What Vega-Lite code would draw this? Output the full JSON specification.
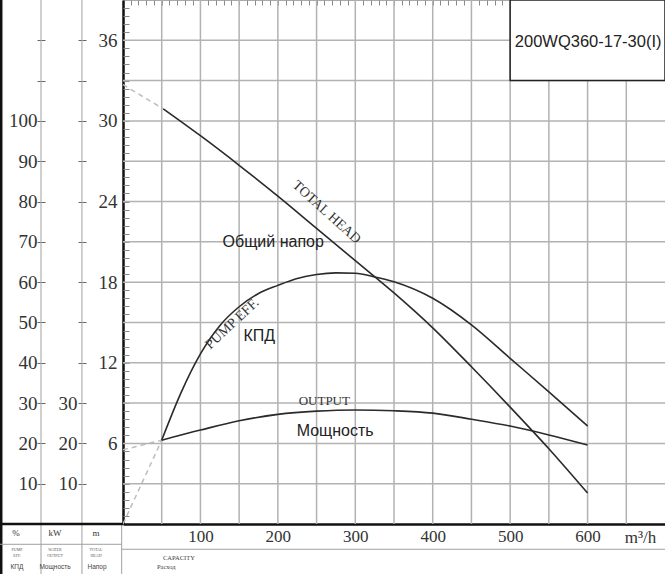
{
  "$schema": "https://vega.github.io/schema/vega-lite/v6.json",
  "width": 542,
  "height": 524,
  "autosize": {"type": "none"},
  "padding": {"left": 123, "top": 0, "right": 0, "bottom": 50},
  "background": "white",
  "config": {
    "view": {"stroke": "#aaaaaa", "strokeWidth": 1},
    "axis": {"labelFont": "Liberation Serif", "labelColor": "#333333", "titleFont": "Liberation Serif", "titleColor": "#333333"}
  },
  "datasets": {
    "gridFlow": [{"Q": 50}, {"Q": 100}, {"Q": 150}, {"Q": 200}, {"Q": 250}, {"Q": 300}, {"Q": 350}, {"Q": 400}, {"Q": 450}, {"Q": 500}, {"Q": 550}, {"Q": 600}, {"Q": 650}],
    "gridHead": [{"head": 3}, {"head": 6}, {"head": 9}, {"head": 12}, {"head": 15}, {"head": 18}, {"head": 21}, {"head": 24}, {"head": 27}, {"head": 30}, {"head": 33}, {"head": 36}],
    "head": [
      {"Q": 52, "head": 30.9}, {"Q": 100, "head": 28.9}, {"Q": 150, "head": 26.7},
      {"Q": 200, "head": 24.4}, {"Q": 250, "head": 22.0}, {"Q": 300, "head": 19.6},
      {"Q": 350, "head": 17.2}, {"Q": 400, "head": 14.6}, {"Q": 450, "head": 11.7},
      {"Q": 500, "head": 8.7}, {"Q": 550, "head": 5.6}, {"Q": 600, "head": 2.3}
    ],
    "headDash": [{"Q": 0, "head": 32.7}, {"Q": 52, "head": 30.9}],
    "eff": [
      {"Q": 50, "eff": 20.8}, {"Q": 75, "eff": 32.6}, {"Q": 100, "eff": 42.2},
      {"Q": 125, "eff": 49.2}, {"Q": 150, "eff": 53.9}, {"Q": 175, "eff": 57.2},
      {"Q": 200, "eff": 59.2}, {"Q": 225, "eff": 60.9}, {"Q": 250, "eff": 61.9},
      {"Q": 275, "eff": 62.3}, {"Q": 300, "eff": 62.2}, {"Q": 325, "eff": 61.3},
      {"Q": 350, "eff": 60.1}, {"Q": 400, "eff": 56}, {"Q": 450, "eff": 49.4},
      {"Q": 500, "eff": 41.1}, {"Q": 550, "eff": 32.8}, {"Q": 600, "eff": 24.3}
    ],
    "effDash": [{"Q": 0, "eff": 0}, {"Q": 50, "eff": 20.8}],
    "kw": [
      {"Q": 50, "kw": 20.8}, {"Q": 100, "kw": 23.3}, {"Q": 150, "kw": 25.6},
      {"Q": 200, "kw": 27.2}, {"Q": 250, "kw": 28}, {"Q": 300, "kw": 28.3},
      {"Q": 350, "kw": 28.1}, {"Q": 400, "kw": 27.5}, {"Q": 450, "kw": 26},
      {"Q": 500, "kw": 24.3}, {"Q": 550, "kw": 22.1}, {"Q": 600, "kw": 19.6}
    ],
    "kwDash": [{"Q": 0, "kw": 18.4}, {"Q": 50, "kw": 20.8}],
    "one": [{}],
    "units": [
      {"label": "%", "Q": -138.2, "head": -0.67},
      {"label": "kW", "Q": -87.8, "head": -0.67},
      {"label": "m", "Q": -34.9, "head": -0.67}
    ],
    "unitsTiny": [
      {"label": "PUMP\nEFF.", "Q": -136.9, "head": -1.95},
      {"label": "WATER\nOUTPUT", "Q": -87.8, "head": -1.95},
      {"label": "TOTAL\nHEAD", "Q": -34.9, "head": -1.95}
    ],
    "unitsRu": [
      {"label": "КПД", "Q": -136.9, "head": -3.2},
      {"label": "Мощность", "Q": -87.8, "head": -3.2},
      {"label": "Напор", "Q": -33.6, "head": -3.2}
    ],
    "capacity": [
      {"label": "CAPACITY", "Q": 51.7, "head": -2.53},
      {"label": "Расход", "Q": 43.9, "head": -3.2}
    ]
  },
  "layer": [
    {
      "data": {"name": "headDash"},
      "mark": {"type": "line", "color": "#bdbdbd", "strokeWidth": 1.5, "strokeDash": [5, 4]},
      "encoding": {
        "x": {
          "field": "Q", "type": "quantitative",
          "scale": {"domain": [0, 700], "nice": false, "zero": false},
          "axis": {
            "title": "m³/h",
            "titleX": 517, "titleY": 13, "titleAngle": 0, "titleAlign": "center", "titleBaseline": "middle",
            "titleFontSize": 17, "titleFontWeight": "normal",
            "values": [100, 200, 300, 400, 500, 600],
            "grid": false, "ticks": false,
            "domainColor": "#111111", "domainWidth": 2.5,
            "labelFontSize": 17, "labelPadding": 4, "labelBaseline": "top"
          }
        },
        "y": {
          "field": "head", "type": "quantitative",
          "scale": {"domain": [0, 39], "nice": false, "zero": false},
          "axis": {
            "orient": "left", "title": null,
            "values": [6, 12, 18, 24, 30, 36],
            "grid": false, "ticks": false,
            "domainColor": "#111111", "domainWidth": 2.5,
            "labelFontSize": 19, "labelPadding": 6, "labelBaseline": "middle"
          }
        }
      }
    },
    {
      "data": {"name": "effDash"},
      "mark": {"type": "line", "color": "#bdbdbd", "strokeWidth": 1.5, "strokeDash": [5, 4]},
      "encoding": {
        "x": {"field": "Q", "type": "quantitative", "scale": {"domain": [0, 700], "nice": false, "zero": false}, "axis": null},
        "y": {
          "field": "eff", "type": "quantitative",
          "scale": {"domain": [0, 130], "nice": false, "zero": false},
          "axis": {
            "orient": "left", "offset": 82, "title": null,
            "values": [10,20,30,40,50,60,70,80,90,100,110,120],
            "grid": false, "domain": false,
            "tickColor": "#666666", "tickSize": 4, "tickWidth": 1,
            "labelExpr": "datum.value <= 100 ? format(datum.value, 'd') : ''",
            "labelFontSize": 19, "labelPadding": 0, "labelBaseline": "middle"
          }
        }
      }
    },
    {
      "data": {"name": "kwDash"},
      "mark": {"type": "line", "color": "#bdbdbd", "strokeWidth": 1.5, "strokeDash": [5, 4]},
      "encoding": {
        "x": {"field": "Q", "type": "quantitative", "scale": {"domain": [0, 700], "nice": false, "zero": false}, "axis": null},
        "y": {
          "field": "kw", "type": "quantitative",
          "scale": {"domain": [0, 130], "nice": false, "zero": false},
          "axis": {
            "orient": "left", "offset": 41, "title": null,
            "values": [10,20,30,40,50,60,70,80,90,100,110,120],
            "grid": false, "domain": false,
            "tickColor": "#666666", "tickSize": 4, "tickWidth": 1,
            "labelExpr": "datum.value <= 30 ? format(datum.value, 'd') : ''",
            "labelFontSize": 19, "labelPadding": 1, "labelBaseline": "middle"
          }
        }
      }
    },
    {
      "data": {"name": "gridFlow"},
      "mark": {"type": "rule", "color": "#b2b2b2", "strokeWidth": 1.5},
      "encoding": {
        "x": {
          "field": "Q", "type": "quantitative",
          "scale": {"domain": [0, 700], "nice": false, "zero": false},
          "axis": {
            "title": null, "labels": false, "domain": false, "grid": false, "offset": -5,
            "values": [10,20,30,40,50,60,70,80,90,100,110,120,130,140,150,160,170,180,190,200,210,220,230,240,250,260,270,280,290,300,310,320,330,340,350,360,370,380,390,400,410,420,430,440,450,460,470,480,490,500,510,520,530,540,550,560,570,580,590,600,610,620,630,640,650,660,670,680,690],
            "tickColor": "#8a8a8a", "tickSize": 5, "tickWidth": 1
          }
        },
        "y": {"datum": 0, "type": "quantitative", "scale": {"domain": [0, 39], "nice": false, "zero": false}, "axis": null},
        "y2": {"datum": 39}
      }
    },
    {
      "data": {"name": "gridHead"},
      "mark": {"type": "rule", "color": "#b2b2b2", "strokeWidth": 1.5},
      "encoding": {
        "x": {"datum": 0, "type": "quantitative", "scale": {"domain": [0, 700], "nice": false, "zero": false}, "axis": null},
        "x2": {"datum": 700},
        "y": {
          "field": "head", "type": "quantitative",
          "scale": {"domain": [0, 39], "nice": false, "zero": false},
          "axis": {
            "orient": "left", "title": null, "labels": false, "domain": false, "grid": false, "offset": -6,
            "values": [0.6,1.2,1.8,2.4,3,3.6,4.2,4.8,5.4,6,6.6,7.2,7.8,8.4,9,9.6,10.2,10.8,11.4,12,12.6,13.2,13.8,14.4,15,15.6,16.2,16.8,17.4,18,18.6,19.2,19.8,20.4,21,21.6,22.2,22.8,23.4,24,24.6,25.2,25.8,26.4,27,27.6,28.2,28.8,29.4,30,30.6,31.2,31.8,32.4,33,33.6,34.2,34.8,35.4,36,36.6,37.2,37.8,38.4],
            "tickColor": "#8a8a8a", "tickSize": 6, "tickWidth": 1
          }
        }
      }
    },
    {
      "data": {"name": "head"},
      "mark": {"type": "line", "color": "#2a2a2a", "strokeWidth": 1.6, "interpolate": "monotone"},
      "encoding": {
        "x": {"field": "Q", "type": "quantitative", "scale": {"domain": [0, 700], "nice": false, "zero": false}, "axis": null},
        "y": {"field": "head", "type": "quantitative", "scale": {"domain": [0, 39], "nice": false, "zero": false}, "axis": null}
      }
    },
    {
      "data": {"name": "eff"},
      "mark": {"type": "line", "color": "#2a2a2a", "strokeWidth": 1.6, "interpolate": "monotone"},
      "encoding": {
        "x": {"field": "Q", "type": "quantitative", "scale": {"domain": [0, 700], "nice": false, "zero": false}, "axis": null},
        "y": {
          "field": "eff", "type": "quantitative",
          "scale": {"domain": [0, 130], "nice": false, "zero": false},
          "axis": {
            "orient": "left", "offset": 78, "title": null, "labels": false, "domain": false, "grid": false,
            "values": [10,20,30,40,50,60,70,80,90,100,110,120],
            "tickColor": "#666666", "tickSize": 4, "tickWidth": 1
          }
        }
      }
    },
    {
      "data": {"name": "kw"},
      "mark": {"type": "line", "color": "#2a2a2a", "strokeWidth": 1.6, "interpolate": "monotone"},
      "encoding": {
        "x": {"field": "Q", "type": "quantitative", "scale": {"domain": [0, 700], "nice": false, "zero": false}, "axis": null},
        "y": {
          "field": "kw", "type": "quantitative",
          "scale": {"domain": [0, 130], "nice": false, "zero": false},
          "axis": {
            "orient": "left", "offset": 37, "title": null, "labels": false, "domain": false, "grid": false,
            "values": [10,20,30,40,50,60,70,80,90,100,110,120],
            "tickColor": "#666666", "tickSize": 4, "tickWidth": 1
          }
        }
      }
    },
    {
      "data": {"values": [{"label": "TOTAL HEAD", "Q": 263, "head": 23.2}]},
      "mark": {"type": "text", "font": "Liberation Serif", "fontSize": 14, "angle": 42, "color": "#333333"},
      "encoding": {
        "x": {"field": "Q", "type": "quantitative", "scale": {"domain": [0, 700], "nice": false, "zero": false}, "axis": null},
        "y": {"field": "head", "type": "quantitative", "scale": {"domain": [0, 39], "nice": false, "zero": false}, "axis": null},
        "text": {"field": "label"}
      }
    },
    {
      "data": {"values": [{"label": "Общий напор", "Q": 194, "head": 21.0}]},
      "mark": {"type": "text", "font": "Liberation Sans", "fontSize": 16, "color": "#222222"},
      "encoding": {
        "x": {"field": "Q", "type": "quantitative", "scale": {"domain": [0, 700], "nice": false, "zero": false}, "axis": null},
        "y": {"field": "head", "type": "quantitative", "scale": {"domain": [0, 39], "nice": false, "zero": false}, "axis": null},
        "text": {"field": "label"}
      }
    },
    {
      "data": {"values": [{"label": "PUMP EFF.", "Q": 141, "head": 14.9}]},
      "mark": {"type": "text", "font": "Liberation Serif", "fontSize": 14, "angle": -43, "color": "#333333"},
      "encoding": {
        "x": {"field": "Q", "type": "quantitative", "scale": {"domain": [0, 700], "nice": false, "zero": false}, "axis": null},
        "y": {"field": "head", "type": "quantitative", "scale": {"domain": [0, 39], "nice": false, "zero": false}, "axis": null},
        "text": {"field": "label"}
      }
    },
    {
      "data": {"values": [{"label": "КПД", "Q": 176, "head": 14.0}]},
      "mark": {"type": "text", "font": "Liberation Sans", "fontSize": 16, "color": "#222222"},
      "encoding": {
        "x": {"field": "Q", "type": "quantitative", "scale": {"domain": [0, 700], "nice": false, "zero": false}, "axis": null},
        "y": {"field": "head", "type": "quantitative", "scale": {"domain": [0, 39], "nice": false, "zero": false}, "axis": null},
        "text": {"field": "label"}
      }
    },
    {
      "data": {"values": [{"label": "OUTPUT", "Q": 260, "head": 9.15}]},
      "mark": {"type": "text", "font": "Liberation Serif", "fontSize": 13, "color": "#333333"},
      "encoding": {
        "x": {"field": "Q", "type": "quantitative", "scale": {"domain": [0, 700], "nice": false, "zero": false}, "axis": null},
        "y": {"field": "head", "type": "quantitative", "scale": {"domain": [0, 39], "nice": false, "zero": false}, "axis": null},
        "text": {"field": "label"}
      }
    },
    {
      "data": {"values": [{"label": "Мощность", "Q": 274, "head": 6.9}]},
      "mark": {"type": "text", "font": "Liberation Sans", "fontSize": 16, "color": "#222222"},
      "encoding": {
        "x": {"field": "Q", "type": "quantitative", "scale": {"domain": [0, 700], "nice": false, "zero": false}, "axis": null},
        "y": {"field": "head", "type": "quantitative", "scale": {"domain": [0, 39], "nice": false, "zero": false}, "axis": null},
        "text": {"field": "label"}
      }
    },
    {
      "data": {"name": "one"},
      "mark": {"type": "rect", "fill": "white", "stroke": "#222222", "strokeWidth": 1.5},
      "encoding": {
        "x": {"datum": 500, "type": "quantitative", "scale": {"domain": [0, 700], "nice": false, "zero": false}, "axis": null},
        "x2": {"datum": 700},
        "y": {"datum": 33, "type": "quantitative", "scale": {"domain": [0, 39], "nice": false, "zero": false}, "axis": null},
        "y2": {"datum": 39}
      }
    },
    {
      "data": {"values": [{"label": "200WQ360-17-30(I)", "Q": 506, "head": 35.9}]},
      "mark": {"type": "text", "font": "Liberation Sans", "fontSize": 16.5, "align": "left", "baseline": "middle", "color": "#222222"},
      "encoding": {
        "x": {"field": "Q", "type": "quantitative", "scale": {"domain": [0, 700], "nice": false, "zero": false}, "axis": null},
        "y": {"field": "head", "type": "quantitative", "scale": {"domain": [0, 39], "nice": false, "zero": false}, "axis": null},
        "text": {"field": "label"}
      }
    },
    {
      "data": {"name": "one"},
      "mark": {"type": "rule", "color": "#a0a0a0", "strokeWidth": 1},
      "encoding": {
        "x": {"datum": -105.9, "type": "quantitative", "scale": {"domain": [0, 700], "nice": false, "zero": false}, "axis": null},
        "y": {"datum": -3.72, "type": "quantitative", "scale": {"domain": [0, 39], "nice": false, "zero": false}, "axis": null},
        "y2": {"datum": 39}
      }
    },
    {
      "data": {"name": "one"},
      "mark": {"type": "rule", "color": "#a0a0a0", "strokeWidth": 1},
      "encoding": {
        "x": {"datum": -53, "type": "quantitative", "scale": {"domain": [0, 700], "nice": false, "zero": false}, "axis": null},
        "y": {"datum": -3.72, "type": "quantitative", "scale": {"domain": [0, 39], "nice": false, "zero": false}, "axis": null},
        "y2": {"datum": 39}
      }
    },
    {
      "data": {"name": "one"},
      "mark": {"type": "rule", "color": "#a0a0a0", "strokeWidth": 1},
      "encoding": {
        "x": {"datum": -1.7, "type": "quantitative", "scale": {"domain": [0, 700], "nice": false, "zero": false}, "axis": null},
        "y": {"datum": -3.72, "type": "quantitative", "scale": {"domain": [0, 39], "nice": false, "zero": false}, "axis": null},
        "y2": {"datum": 0}
      }
    },
    {
      "data": {"name": "one"},
      "mark": {"type": "rule", "color": "#111111", "strokeWidth": 3},
      "encoding": {
        "x": {"datum": -157.6, "type": "quantitative", "scale": {"domain": [0, 700], "nice": false, "zero": false}, "axis": null},
        "y": {"datum": -3.72, "type": "quantitative", "scale": {"domain": [0, 39], "nice": false, "zero": false}, "axis": null},
        "y2": {"datum": 39}
      }
    },
    {
      "data": {"name": "one"},
      "mark": {"type": "rule", "color": "#111111", "strokeWidth": 2.5},
      "encoding": {
        "x": {"datum": -158.9, "type": "quantitative", "scale": {"domain": [0, 700], "nice": false, "zero": false}, "axis": null},
        "x2": {"datum": 0},
        "y": {"datum": 0, "type": "quantitative", "scale": {"domain": [0, 39], "nice": false, "zero": false}, "axis": null}
      }
    },
    {
      "data": {"name": "one"},
      "mark": {"type": "rule", "color": "#a0a0a0", "strokeWidth": 1},
      "encoding": {
        "x": {"datum": -158.9, "type": "quantitative", "scale": {"domain": [0, 700], "nice": false, "zero": false}, "axis": null},
        "x2": {"datum": -1.7},
        "y": {"datum": -1.51, "type": "quantitative", "scale": {"domain": [0, 39], "nice": false, "zero": false}, "axis": null}
      }
    },
    {
      "data": {"name": "one"},
      "mark": {"type": "rule", "color": "#a0a0a0", "strokeWidth": 1},
      "encoding": {
        "x": {"datum": -1.7, "type": "quantitative", "scale": {"domain": [0, 700], "nice": false, "zero": false}, "axis": null},
        "x2": {"datum": 700},
        "y": {"datum": -1.88, "type": "quantitative", "scale": {"domain": [0, 39], "nice": false, "zero": false}, "axis": null}
      }
    },
    {
      "data": {"name": "units"},
      "mark": {"type": "text", "font": "Liberation Serif", "fontSize": 9, "color": "#333333"},
      "encoding": {
        "x": {"field": "Q", "type": "quantitative", "scale": {"domain": [0, 700], "nice": false, "zero": false}, "axis": null},
        "y": {"field": "head", "type": "quantitative", "scale": {"domain": [0, 39], "nice": false, "zero": false}, "axis": null},
        "text": {"field": "label"}
      }
    },
    {
      "data": {"name": "unitsTiny"},
      "mark": {"type": "text", "font": "Liberation Serif", "fontSize": 4, "lineBreak": "\n", "color": "#555555"},
      "encoding": {
        "x": {"field": "Q", "type": "quantitative", "scale": {"domain": [0, 700], "nice": false, "zero": false}, "axis": null},
        "y": {"field": "head", "type": "quantitative", "scale": {"domain": [0, 39], "nice": false, "zero": false}, "axis": null},
        "text": {"field": "label"}
      }
    },
    {
      "data": {"name": "unitsRu"},
      "mark": {"type": "text", "font": "Liberation Sans", "fontSize": 6.5, "color": "#444444"},
      "encoding": {
        "x": {"field": "Q", "type": "quantitative", "scale": {"domain": [0, 700], "nice": false, "zero": false}, "axis": null},
        "y": {"field": "head", "type": "quantitative", "scale": {"domain": [0, 39], "nice": false, "zero": false}, "axis": null},
        "text": {"field": "label"}
      }
    },
    {
      "data": {"name": "capacity"},
      "mark": {"type": "text", "font": "Liberation Serif", "fontSize": 6.5, "align": "left", "color": "#444444"},
      "encoding": {
        "x": {"field": "Q", "type": "quantitative", "scale": {"domain": [0, 700], "nice": false, "zero": false}, "axis": null},
        "y": {"field": "head", "type": "quantitative", "scale": {"domain": [0, 39], "nice": false, "zero": false}, "axis": null},
        "text": {"field": "label"}
      }
    }
  ],
  "resolve": {"scale": {"x": "independent", "y": "independent"}}
}
